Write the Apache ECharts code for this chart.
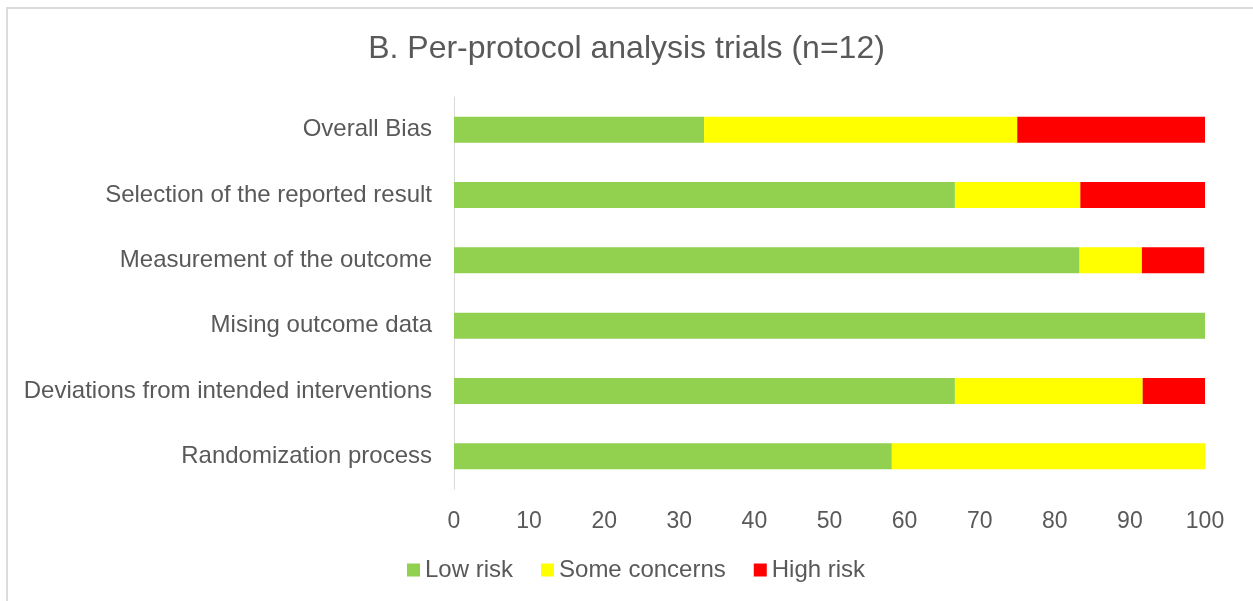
<!DOCTYPE html>
<html>
<head>
<meta charset="utf-8">
<script src="https://cdn.jsdelivr.net/npm/echarts@6/dist/echarts.min.js"></script>
<style>
  html, body { margin: 0; padding: 0; background: #fff; overflow: hidden; }
  #frame {
    position: absolute; left: 6px; top: 7px; width: 1300px; height: 650px;
    border-left: 2px solid #dcdcdc; border-top: 2px solid #dcdcdc;
  }
  #chart { position: absolute; left: 0; top: 0; width: 1253px; height: 601px; }
</style>
</head>
<body>
<div id="frame"></div>
<div id="chart"></div>
<script>
// categories, bottom to top as drawn
const domains = [
  'Randomization process',
  'Deviations from intended interventions',
  'Mising outcome data',
  'Measurement of the outcome',
  'Selection of the reported result',
  'Overall Bias'
]
const lowRisk = [58.3, 66.7, 100, 83.3, 66.7, 33.3]
const someConcerns = [41.7, 25.0, 0, 8.3, 16.7, 41.7]
const highRisk = [0, 8.3, 0, 8.3, 16.6, 25.0]
const xTicks = [0, 10, 20, 30, 40, 50, 60, 70, 80, 90, 100]

const font = 'Liberation Sans, Arial, sans-serif'
const textColor = '#595959'

const chart = echarts.init(document.getElementById('chart'))

function barSeries(name, data, color) {
  return {
    name: name,
    type: 'bar',
    stack: 'risk',
    barWidth: 26,
    data: data,
    itemStyle: { color: color },
    emphasis: { disabled: true }
  }
}

chart.setOption({
  animation: false,
  title: {
    text: 'B. Per-protocol analysis trials (n=12)',
    left: 'center',
    top: 28,
    textStyle: { fontFamily: font, fontSize: 32, fontWeight: 'normal', color: textColor }
  },
  legend: {
    bottom: 14,
    left: 402,
    itemWidth: 13,
    itemHeight: 13,
    itemGap: 28,
    icon: 'rect',
    textStyle: { fontFamily: font, fontSize: 24, color: textColor },
    data: ['Low risk', 'Some concerns', 'High risk']
  },
  grid: { left: 454, right: 48, top: 97, bottom: 112 },
  xAxis: {
    type: 'value',
    min: xTicks[0],
    max: xTicks[xTicks.length - 1],
    interval: 10,
    axisLine: { show: false },
    axisTick: { show: false },
    splitLine: { show: false },
    axisLabel: { fontFamily: font, fontSize: 23, color: textColor, margin: 21 }
  },
  yAxis: {
    type: 'category',
    data: domains,
    axisLine: { show: true, lineStyle: { color: '#d9d9d9', width: 1 } },
    axisTick: { show: false },
    axisLabel: { fontFamily: font, fontSize: 24, color: textColor, margin: 22 }
  },
  series: [
    barSeries('Low risk', lowRisk, '#92d050'),
    barSeries('Some concerns', someConcerns, '#ffff00'),
    barSeries('High risk', highRisk, '#ff0000')
  ]
})
</script>
</body>
</html>
